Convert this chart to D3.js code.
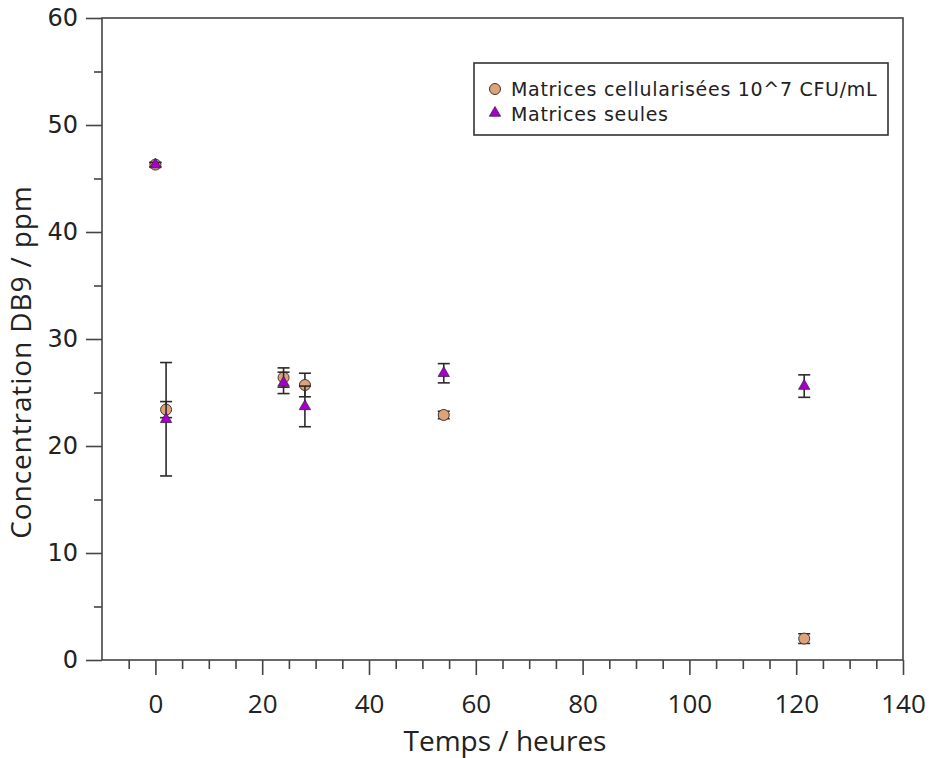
<!DOCTYPE html>
<html><head><meta charset="utf-8">
<script src="https://cdn.jsdelivr.net/npm/d3@7"></script>
<style>body{margin:0;background:#fff}svg{display:block}</style>
</head><body>
<svg id="c" width="929" height="758"></svg>
<script>
const times = [0, 2, 24, 28, 54, 121.5];
const cellValues = [46.3, 23.4, 26.4, 25.7, 22.9, 2.0];
const cellErrors = [0.2, 0.75, 0.9, 1.1, 0.35, 0.45];
const seulesValues = [46.3, 22.5, 25.9, 23.7, 26.8, 25.6];
const seulesErrors = [0.2, 5.3, 1.0, 1.9, 0.9, 1.05];
const seriesNames = ["Matrices cellularisées 10^7 CFU/mL", "Matrices seules"];
const xMajorTicks = [0, 20, 40, 60, 80, 100, 120, 140];
const yMajorTicks = [0, 10, 20, 30, 40, 50, 60];

const W = 929, H = 758;
const m = {l: 102, r: 26, t: 18, b: 98};
const svg = d3.select("#c");
const x = d3.scaleLinear().domain([-10, 140]).range([m.l, W - m.r]);
const y = d3.scaleLinear().domain([0, 60]).range([H - m.b, m.t]);
const axisCol = "#444";

// frame
svg.append("rect").attr("x", m.l).attr("y", m.t)
  .attr("width", W - m.l - m.r).attr("height", H - m.t - m.b)
  .attr("fill", "none").attr("stroke", axisCol).attr("stroke-width", 1.6);

// X axis
const xMinor = d3.range(-5, 140, 5).filter(v => !xMajorTicks.includes(v));
const gx = svg.append("g").attr("transform", `translate(0,${H - m.b})`);
gx.call(d3.axisBottom(x).tickValues(xMinor).tickSize(9).tickFormat(""));
gx.call(g => g.select(".domain").remove());
const gx2 = svg.append("g").attr("transform", `translate(0,${H - m.b})`);
gx2.call(d3.axisBottom(x).tickValues(xMajorTicks).tickSize(15).tickPadding(20).tickFormat(d3.format("d")));
gx2.select(".domain").remove();
[gx, gx2].forEach(g => g.selectAll("line").attr("stroke", axisCol).attr("stroke-width", 1.6));
gx2.selectAll("text").attr("font-family", "Open Sans").attr("font-size", 26).attr("fill", "#222");

// Y axis
const yMinor = d3.range(5, 60, 10);
const gy = svg.append("g").attr("transform", `translate(${m.l},0)`);
gy.call(d3.axisLeft(y).tickValues(yMinor).tickSize(8).tickFormat(""));
gy.select(".domain").remove();
const gy2 = svg.append("g").attr("transform", `translate(${m.l},0)`);
gy2.call(d3.axisLeft(y).tickValues(yMajorTicks).tickSize(16).tickPadding(8).tickFormat(d3.format("d")));
gy2.select(".domain").remove();
[gy, gy2].forEach(g => g.selectAll("line").attr("stroke", axisCol).attr("stroke-width", 1.6));
gy2.selectAll("text").attr("font-family", "DejaVu Sans").attr("font-size", 24).attr("fill", "#222");

// titles
svg.append("text").attr("x", 505).attr("y", 751).attr("text-anchor", "middle")
  .attr("font-family", "Open Sans").attr("font-size", 28).attr("fill", "#222").text("Temps / heures");
svg.append("text").attr("transform", `translate(31,${(y(0) + y(60)) / 2 + 23}) rotate(-90)`)
  .attr("text-anchor", "middle").attr("font-family", "Open Sans").attr("font-size", 28)
  .attr("letter-spacing", 0.9).attr("fill", "#222")
  .text("Concentration DB9 / ppm");

// data
const cells = times.map((t, i) => ({t, v: cellValues[i], e: cellErrors[i]}));
const seules = times.map((t, i) => ({t, v: seulesValues[i], e: seulesErrors[i]}));
const circFill = "#dba27c", circStroke = "#4a3426";
const triFill = "#a400c8", triStroke = "#4a1a55";
const cap = 6;

function errorBars(data) {
  const g = svg.append("g").attr("stroke", "#2a2a2a").attr("stroke-width", 1.6);
  data.forEach(d => {
    const cx = x(d.t), y1 = y(d.v + d.e), y2 = y(d.v - d.e);
    g.append("line").attr("x1", cx).attr("x2", cx).attr("y1", y1).attr("y2", y2);
    g.append("line").attr("x1", cx - cap).attr("x2", cx + cap).attr("y1", y1).attr("y2", y1);
    g.append("line").attr("x1", cx - cap).attr("x2", cx + cap).attr("y1", y2).attr("y2", y2);
  });
}
errorBars(cells);
svg.append("g").selectAll("circle").data(cells).join("circle")
  .attr("cx", d => x(d.t)).attr("cy", d => y(d.v)).attr("r", 5.5)
  .attr("fill", circFill).attr("stroke", circStroke).attr("stroke-width", 1);
errorBars(seules);
const tri = d3.symbol().type(d3.symbolTriangle).size(55);
svg.append("g").selectAll("path").data(seules).join("path")
  .attr("transform", d => `translate(${x(d.t)},${y(d.v)})`).attr("d", tri)
  .attr("fill", triFill).attr("stroke", triStroke).attr("stroke-width", 0.8);

// legend
const lg = svg.append("g");
lg.append("rect").attr("x", 474).attr("y", 63).attr("width", 414).attr("height", 72)
  .attr("fill", "#fff").attr("stroke", "#333").attr("stroke-width", 1.6);
lg.append("circle").attr("cx", 495).attr("cy", 89).attr("r", 5.5)
  .attr("fill", circFill).attr("stroke", circStroke).attr("stroke-width", 1);
lg.append("path").attr("transform", "translate(495,113)").attr("d", tri)
  .attr("fill", triFill).attr("stroke", triStroke).attr("stroke-width", 0.8);
lg.selectAll("text").data(seriesNames).join("text")
  .attr("x", 511).attr("y", (d, i) => 96 + i * 25)
  .attr("font-family", "DejaVu Sans").attr("font-size", 19).attr("letter-spacing", 0.7)
  .attr("fill", "#222").text(d => d);
</script>
</body></html>
